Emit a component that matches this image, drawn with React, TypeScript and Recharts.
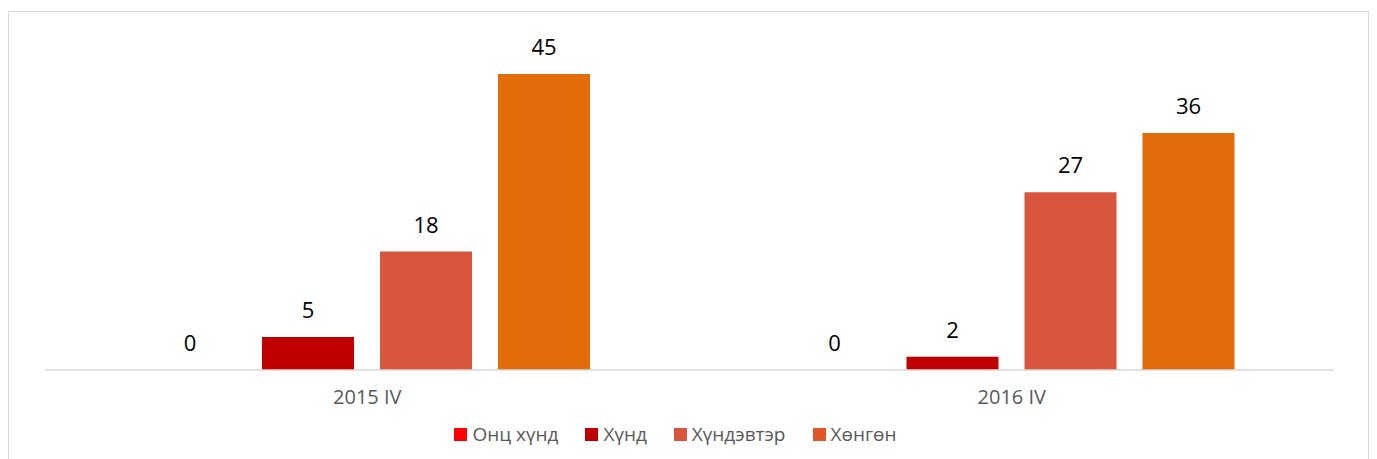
import React from 'react';
import { BarChart, Bar, XAxis, YAxis, Legend, LabelList } from 'recharts';

const periods = ['2015 IV', '2016 IV'];
const seriesNames = ['Онц хүнд', 'Хүнд', 'Хүндэвтэр', 'Хөнгөн'];
const extreme = [0, 0];
const severe = [5, 2];
const moderate = [18, 27];
const light = [45, 36];
const barColors = ['#FF0000', '#C00000', '#D9563E', '#E36C0A'];
const legendColors = ['#FF0000', '#C00000', '#D9563E', '#E0582A'];

const chartData = periods.map((p, i) => ({
  period: p,
  s0: extreme[i],
  s1: severe[i],
  s2: moderate[i],
  s3: light[i],
}));

const FONT = '"Open Sans", "Noto Sans", sans-serif';

const renderLegend = () => (
  <div
    style={{
      display: 'flex',
      justifyContent: 'center',
      height: 24,
      alignItems: 'center',
      fontFamily: FONT,
      fontSize: 19,
      color: '#595959',
      paddingRight: 26,
    }}
  >
    {seriesNames.map((name, i) => (
      <div key={name} style={{ display: 'flex', alignItems: 'center', marginRight: i < 3 ? 27 : 0 }}>
        <span style={{ width: 13, height: 13, background: legendColors[i], marginRight: 5, display: 'inline-block' }} />
        <span>{name}</span>
      </div>
    ))}
  </div>
);

export default function App() {
  return (
    <div style={{ position: 'absolute', left: 0, top: 0, width: 1377, height: 459, background: '#fff' }}>
      {/* chart frame */}
      <div
        style={{
          position: 'absolute',
          left: 8,
          top: 11,
          width: 1361,
          height: 460,
          border: '1.5px solid #d9d9d9',
          boxSizing: 'border-box',
        }}
      />
      <div style={{ position: 'absolute', left: 0, top: 0 }}>
        <BarChart
          width={1377}
          height={459}
          data={chartData}
          margin={{ top: 41, right: 43, left: 45, bottom: 35 }}
          barSize={92}
          barGap={26}
        >
          <XAxis
            dataKey="period"
            height={30}
            tickLine={false}
            axisLine={{ stroke: '#d9d9d9', strokeWidth: 1.5 }}
            tick={{ fill: '#595959', fontSize: 20, fontFamily: FONT }}
            tickMargin={14}
          />
          <YAxis hide domain={[0, 50]} />
          <Legend
            verticalAlign="bottom"
            content={renderLegend}
            wrapperStyle={{ top: 422, left: 0, width: 1377 }}
          />
          {['s0', 's1', 's2', 's3'].map((key, i) => (
            <Bar
              key={key}
              dataKey={key}
              name={seriesNames[i]}
              fill={barColors[i]}
              minPointSize={0.01}
              isAnimationActive={false}
            >
              <LabelList
                dataKey={key}
                position="top"
                offset={19}
                style={{ fill: '#000', fontSize: 22, fontFamily: FONT }}
              />
            </Bar>
          ))}
        </BarChart>
      </div>
    </div>
  );
}
